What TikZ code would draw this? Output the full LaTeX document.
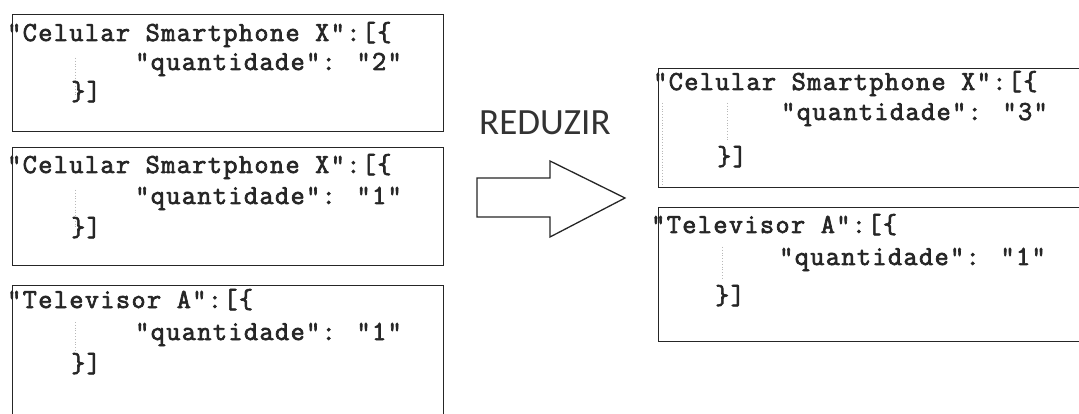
\documentclass[tikz,border=0pt]{standalone}
\usepackage{fontspec}
\newfontfamily\codefont[LetterSpace=5, FakeBold=2.5]{Latin Modern Mono}
\newfontfamily\labelfont{Carlito}
\begin{document}
\begin{tikzpicture}[x=1pt,y=-1pt,
  codebox/.style={draw=black!85, line width=1.4pt, anchor=north west, inner sep=0pt, fill=white},
  codeline/.style={anchor=base west, inner sep=0pt, text=black!85,
    font=\codefont\fontsize{27.5}{30}\selectfont},
  guide/.style={draw=black!28, dotted, line width=0.8pt},
  blockarrow/.style={draw=black!85, line width=1.3pt, fill=white, line join=miter},
  title/.style={anchor=base west, inner sep=0pt, text=black!80,
    font=\labelfont\fontsize{37}{40}\selectfont}
]
\useasboundingbox (0,0) rectangle (1079,414);
\clip (0,0) rectangle (1079,414);

% ---- left column: three separate JSON entries ----
\node[codebox, minimum width=431pt, minimum height=117pt] (b1) at (12,14) {};
\draw[guide] (75,58) -- (75,95);
\node[codeline] (b1a) at (7,41)  {"Celular Smartphone X":[\{};
\node[codeline] (b1b) at (135,70) {"quantidade": "2"};
\node[codeline] (b1c) at (71,100) {\}]};

\node[codebox, minimum width=431pt, minimum height=118pt] (b2) at (12,147) {};
\draw[guide] (75,190) -- (75,228);
\node[codeline] (b2a) at (7,173)  {"Celular Smartphone X":[\{};
\node[codeline] (b2b) at (135,204) {"quantidade": "1"};
\node[codeline] (b2c) at (71,236) {\}]};

\node[codebox, minimum width=431pt, minimum height=160pt] (b3) at (12,285) {};
\draw[guide] (75,322) -- (75,355);
\node[codeline] (b3a) at (7,308)  {"Televisor A":[\{};
\node[codeline] (b3b) at (135,340) {"quantidade": "1"};
\node[codeline] (b3c) at (71,372) {\}]};

% ---- reduce step ----
\node[title] (reduzir) at (479,135) {REDUZIR};
\draw[blockarrow] (477,178) -- (550,178) -- (550,161) -- (625,198)
  -- (550,237) -- (550,217) -- (477,217) -- cycle;

% ---- right column: merged entries ----
\node[codebox, minimum width=440pt, minimum height=119pt] (r1) at (658,68) {};
\draw[guide] (662,103) -- (662,185);
\draw[guide] (727,103) -- (727,140);
\node[codeline] (r1a) at (653,90)  {"Celular Smartphone X":[\{};
\node[codeline] (r1b) at (781,120) {"quantidade": "3"};
\node[codeline] (r1c) at (717,165) {\}]};

\node[codebox, minimum width=440pt, minimum height=134pt] (r2) at (658,207) {};
\draw[guide] (722,247) -- (722,280);
\node[codeline] (r2a) at (651,233)  {"Televisor A":[\{};
\node[codeline] (r2b) at (779,265) {"quantidade": "1"};
\node[codeline] (r2c) at (715,304) {\}]};
\end{tikzpicture}
\end{document}
